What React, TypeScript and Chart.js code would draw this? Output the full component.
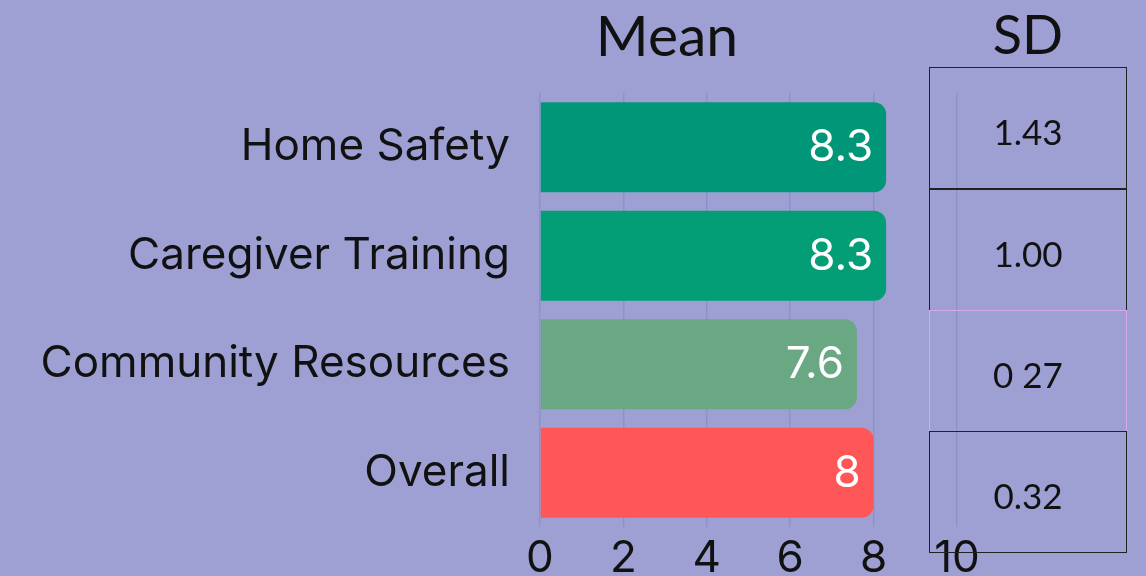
import React, { useEffect, useRef } from "react";
import { Chart, registerables } from "chart.js";

Chart.register(...registerables);

const categories = ["Home Safety", "Caregiver Training", "Community Resources", "Overall"];
const meanValues = [8.3, 8.3, 7.6, 8];
const sdLabels = ["1.43", "1.00", "0 27", "0.32"];
const barColors = ["#009678", "#039E76", "#6AA884", "#FF5757"];
const xMin = 0;
const xMax = 10;
const xStep = 2;

const BG = "#9EA0D4";

const valueLabelPlugin = {
  id: "valueLabels",
  afterDatasetsDraw(chart: any) {
    const ctx = chart.ctx;
    const meta = chart.getDatasetMeta(0);
    ctx.save();
    ctx.font = "44px Inter";
    ctx.fillStyle = "#ffffff";
    ctx.textAlign = "right";
    ctx.textBaseline = "middle";
    meta.data.forEach((bar: any, i: number) => {
      ctx.fillText(String(chart.data.datasets[0].data[i]), bar.x - 13, bar.y + 1);
    });
    ctx.restore();
  },
};

export default function App() {
  const canvasRef = useRef<HTMLCanvasElement | null>(null);

  useEffect(() => {
    let chart: Chart | null = null;
    let cancelled = false;
    const make = () => {
      if (cancelled || !canvasRef.current) return;
      chart = new Chart(canvasRef.current, {
        type: "bar",
        data: {
          labels: categories,
          datasets: [
            {
              data: meanValues,
              backgroundColor: barColors,
              borderWidth: 0,
              borderRadius: 12,
              borderSkipped: "start",
              barPercentage: 0.828,
              categoryPercentage: 1,
            },
          ],
        },
        options: {
          indexAxis: "y",
          responsive: false,
          animation: false,
          layout: { padding: { top: 93, bottom: 0, left: 0, right: 189 } },
          plugins: {
            legend: { display: false },
            tooltip: { enabled: false },
            title: { display: false },
          },
          scales: {
            x: {
              min: xMin,
              max: xMax,
              ticks: {
                stepSize: xStep,
                color: "#111111",
                font: { family: "Inter", size: 44 },
                padding: 5,
              },
              grid: { color: "#8E91C7", lineWidth: 1.5, drawTicks: false },
              border: { display: false },
              afterFit: (s: any) => {
                s.height = 49;
              },
            },
            y: {
              ticks: {
                color: "#111111",
                font: { family: "Inter", size: 44 },
                padding: 30,
              },
              grid: { display: false, drawTicks: false },
              border: { display: false },
              afterFit: (s: any) => {
                s.width = 540;
                s.paddingTop = 0;
                s.paddingBottom = 0;
              },
            },
          },
        },
        plugins: [valueLabelPlugin],
      } as any);
    };
    const fontsReady = (document as any).fonts
      ? Promise.all([
          (document as any).fonts.load("44px Inter"),
          (document as any).fonts.load("54px Lato"),
        ]).catch(() => null)
      : Promise.resolve(null);
    fontsReady.then(make);
    return () => {
      cancelled = true;
      if (chart) chart.destroy();
    };
  }, []);

  const rowTops = [67, 189, 310, 431];
  const rowH = 121.5;
  const borderColors = ["#222222", "#222222", "#D9A8E6", "#222222"];

  return (
    <div
      style={{
        position: "fixed",
        left: 0,
        top: 0,
        width: 1146,
        height: 576,
        background: BG,
        overflow: "hidden",
      }}
    >
      <canvas ref={canvasRef} width={1146} height={576} style={{ position: "absolute", left: 0, top: 0 }} />
      <div
        style={{
          position: "absolute",
          left: 567,
          width: 200,
          top: -2,
          height: 72,
          lineHeight: "72px",
          textAlign: "center",
          fontFamily: "Lato",
          fontSize: 57,
          color: "#111",
        }}
      >
        Mean
      </div>
      <div
        style={{
          position: "absolute",
          left: 928,
          width: 200,
          top: -2,
          height: 72,
          lineHeight: "72px",
          textAlign: "center",
          fontFamily: "Lato",
          fontSize: 54,
          color: "#111",
        }}
      >
        SD
      </div>
      {sdLabels.map((s, i) => (
        <div
          key={i}
          style={{
            position: "absolute",
            left: 929,
            top: rowTops[i],
            width: 198,
            height: rowH,
            boxSizing: "border-box",
            border: `1.5px solid ${borderColors[i]}`,
            display: "flex",
            alignItems: "center",
            justifyContent: "center",
            paddingTop: 6,
            fontFamily: "Lato",
            fontSize: 35,
            color: "#111",
          }}
        >
          {s}
        </div>
      ))}
    </div>
  );
}
